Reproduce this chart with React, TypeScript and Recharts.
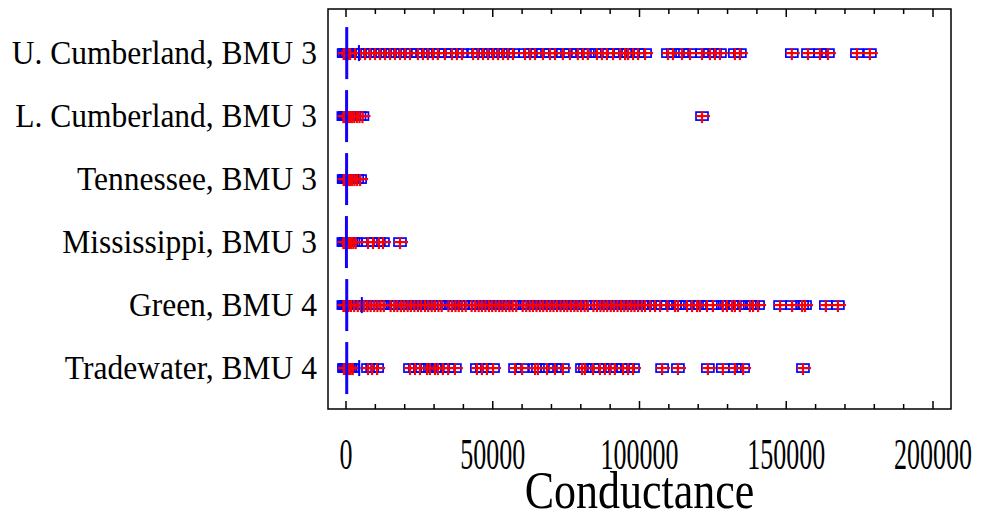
import React from "react";
import {
  ScatterChart,
  Scatter,
  XAxis,
  YAxis,
  ReferenceArea,
} from "recharts";

// Row labels, top to bottom
const rowLabels = [
  "U. Cumberland, BMU 3",
  "L. Cumberland, BMU 3",
  "Tennessee, BMU 3",
  "Mississippi, BMU 3",
  "Green, BMU 4",
  "Tradewater, BMU 4",
];
// numeric y position of each row (top row highest)
const rowPos = [6, 5, 4, 3, 2, 1];

const uCumberland = [
  -800, -300, 200, 700, 1400, 3100, 4800, 6500, 8200, 9900, 11600, 13300, 15000, 16700,
  18400, 20100, 21800, 24500, 26200, 27900, 29600, 31300, 33700, 36100, 37800, 39500, 43300,
  45000, 46700, 48400, 50100, 51800, 53500, 55200, 56900, 61000, 62700, 64400, 67100, 69500,
  71200, 73900, 76300, 79000, 80700, 82400, 85500, 87200, 88900, 91000, 93400, 95100, 96100,
  97800, 99500, 101900, 109700, 111400, 114500, 117200, 121300, 124000, 125700, 127400,
  132500, 134200, 151900, 157400, 161500, 164200, 174100, 178500,
];
const lCumberland = [
  -900, -500, -100, 300, 700, 1300, 2000, 2800, 3700, 4600, 5600, 121300,
];
const tennessee = [-800, -400, 0, 400, 800, 1400, 2100, 2900, 3800, 4800];
const mississippi = [
  -900, -500, -100, 300, 700, 1200, 1800, 2500, 3300, 7500, 9200, 11200, 12600, 18400,
];
const green = [
  -900, -400, 0, 400, 900, 1700, 2800, 4000, 5100, 6200, 7300, 8400, 9600, 10700, 11800,
  12900, 15200, 16400, 17500, 18700, 19800, 21000, 22100, 23300, 24500, 25600, 26900, 28000,
  29200, 30300, 31500, 32600, 34900, 36100, 37300, 38400, 39600, 40800, 42800, 44000, 45200,
  46300, 47500, 48700, 49800, 51000, 52200, 53300, 54500, 55700, 56800, 58000, 60200, 61400,
  62600, 63700, 64900, 66100, 67200, 68400, 69600, 70700, 71900, 73100, 74300, 75400, 76600,
  77800, 78900, 80100, 81300, 82400, 84300, 85500, 86700, 87800, 89000, 90200, 91300, 92500,
  93700, 94800, 96000, 97200, 98300, 99500, 100800, 101900, 103600, 105300, 107000, 109500,
  112100, 113100, 116200, 117900, 119600, 120600, 123000, 125000, 128400, 129800, 131500,
  132500, 134200, 137600, 138700, 140400, 147900, 152000, 155400, 156400, 163500, 167600,
];
const tradewater = [
  -700, -300, 100, 500, 1000, 1600, 2300, 7500, 8900, 10600, 21800, 23500, 25200, 27600,
  28600, 30300, 31300, 33000, 34800, 37100, 44600, 46300, 48000, 50100, 57600, 60000, 64400,
  65400, 68500, 71200, 73900, 80400, 81400, 84200, 86500, 88200, 89900, 91600, 94400, 96100,
  97800, 107700, 113100, 123300, 128400, 132500, 135300, 155700,
];

// medians (long bar) and means (short tick), one per row; null = not visible
const medians = [250, 200, 200, 150, 250, 250];
const means = [4400, null, null, null, 5400, 4500];

const xTicks = [
  0, 10000, 20000, 30000, 40000, 50000, 60000, 70000, 80000, 90000, 100000, 110000, 120000,
  130000, 140000, 150000, 160000, 170000, 180000, 190000, 200000,
];
const yTicks = [1, 2, 3, 4, 5, 6];

const X_MIN = -6133;
const X_MAX = 206133;
const Y_MIN = 0.35;
const Y_MAX = 6.7;

const PLOT_TOP = 9;
const PLOT_BOTTOM = 409;
const SERIF = "'Liberation Serif', 'Times New Roman', serif";

const rowSeries = [uCumberland, lCumberland, tennessee, mississippi, green, tradewater];
const points = rowSeries.flatMap((vals, i) => vals.map((x) => ({ x, y: rowPos[i] })));
const medianPts = medians.map((x, i) => ({ x, y: rowPos[i] }));
const meanPts = means
  .map((x, i) => ({ x, y: rowPos[i] }))
  .filter((p) => p.x != null);

const SquareShape = (p: any) => (
  <rect
    x={p.cx - 6}
    y={p.cy - 4}
    width={12}
    height={8}
    fill="none"
    stroke="#0000ff"
    strokeWidth={1.7}
  />
);

const PlusShape = (p: any) => (
  <g stroke="#ff0000" strokeWidth={2.2}>
    <line x1={p.cx - 6} x2={p.cx + 8} y1={p.cy} y2={p.cy} />
    <line x1={p.cx} x2={p.cx} y1={p.cy - 5} y2={p.cy + 7} />
  </g>
);

const MedianShape = (p: any) => (
  <line x1={p.cx} x2={p.cx} y1={p.cy - 26} y2={p.cy + 26} stroke="#1400ff" strokeWidth={3} />
);

const MeanShape = (p: any) => (
  <line x1={p.cx} x2={p.cx} y1={p.cy - 8} y2={p.cy + 8} stroke="#0000ff" strokeWidth={2} />
);

const XTick = (props: any) => {
  const { x, payload } = props;
  const v = payload.value as number;
  const major = v % 50000 === 0;
  const len = major ? 8 : 5;
  return (
    <g>
      <line x1={x} x2={x} y1={PLOT_BOTTOM} y2={PLOT_BOTTOM - len} stroke="#000" strokeWidth={1.5} />
      <line x1={x} x2={x} y1={PLOT_TOP} y2={PLOT_TOP + len} stroke="#000" strokeWidth={1.5} />
      {major && (
        <text
          transform={`translate(${x},469) scale(1,1.7)`}
          textAnchor="middle"
          fontFamily={SERIF}
          fontSize={26}
          fill="#000"
        >
          {v}
        </text>
      )}
    </g>
  );
};

const YTick = (props: any) => {
  const { y, payload } = props;
  const label = rowLabels[rowPos.indexOf(payload.value)];
  return (
    <text
      transform={`translate(317,${y + 11}) scale(1,1.1)`}
      textAnchor="end"
      fontFamily={SERIF}
      fontSize={31.5}
      fill="#000"
    >
      {label}
    </text>
  );
};

const AxisTitle = (props: any) => {
  const vb = props.viewBox || { x: 328, width: 623 };
  return (
    <text
      transform={`translate(${vb.x + vb.width / 2},508) scale(1,1.2)`}
      textAnchor="middle"
      fontFamily={SERIF}
      fontSize={44}
      fill="#000"
    >
      Conductance
    </text>
  );
};

export default function App() {
  return (
    <div style={{ position: "absolute", left: 0, top: 0, width: 985, height: 514, background: "#fff" }}>
      <ScatterChart width={985} height={514} margin={{ top: 9, right: 34, bottom: 0, left: 0 }}>
        <XAxis
          type="number"
          dataKey="x"
          domain={[X_MIN, X_MAX]}
          ticks={xTicks}
          interval={0}
          tickLine={false}
          axisLine={false}
          height={105}
          tick={XTick}
          label={{ content: AxisTitle }}
        />
        <YAxis
          type="number"
          dataKey="y"
          domain={[Y_MIN, Y_MAX]}
          ticks={yTicks}
          interval={0}
          tickLine={false}
          axisLine={false}
          width={328}
          tick={YTick}
        />
        <ReferenceArea
          x1={X_MIN}
          x2={X_MAX}
          y1={Y_MIN}
          y2={Y_MAX}
          fill="none"
          fillOpacity={0}
          stroke="#000"
          strokeWidth={1.5}
        />
        <Scatter data={points} shape={SquareShape} isAnimationActive={false} />
        <Scatter data={points} shape={PlusShape} isAnimationActive={false} />
        <Scatter data={medianPts} shape={MedianShape} isAnimationActive={false} />
        <Scatter data={meanPts} shape={MeanShape} isAnimationActive={false} />
      </ScatterChart>
    </div>
  );
}
